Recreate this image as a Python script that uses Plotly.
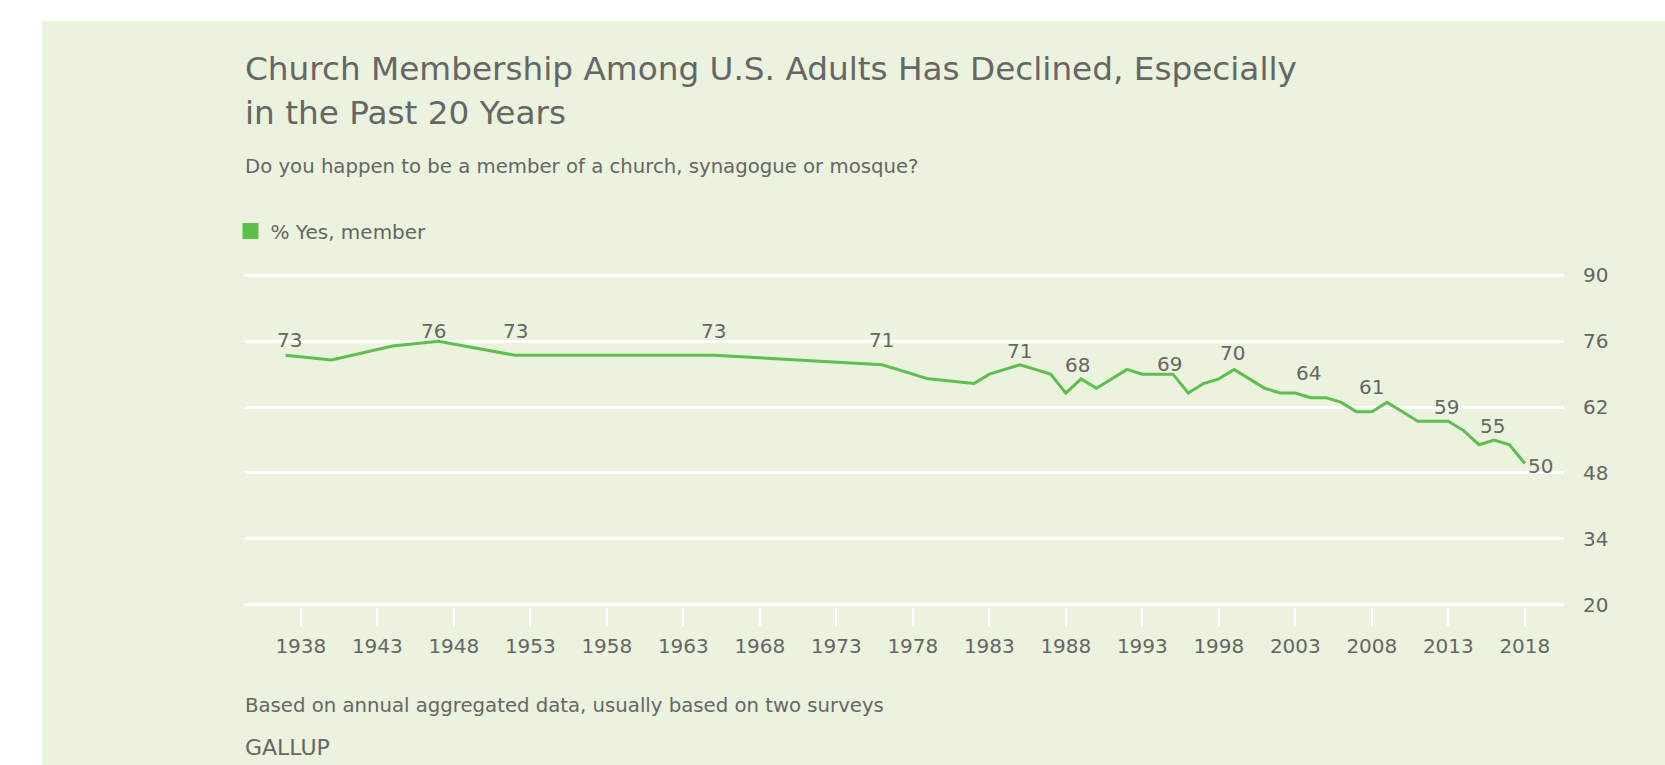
import plotly.graph_objects as go

# ---- data ----
years = [1937, 1940, 1944, 1947, 1952, 1965, 1976, 1979, 1982, 1983, 1985, 1987,
         1988, 1989, 1990, 1992, 1993, 1994, 1995, 1996, 1997, 1998, 1999, 2000,
         2001, 2002, 2003, 2004, 2005, 2006, 2007, 2008, 2009, 2010, 2011, 2012,
         2013, 2014, 2015, 2016, 2017, 2018]
members = [73, 72, 75, 76, 73, 73, 71, 68, 67, 69, 71, 69,
           65, 68, 66, 70, 69, 69, 69, 65, 67, 68, 70, 68,
           66, 65, 65, 64, 64, 63, 61, 61, 63, 61, 59, 59,
           59, 57, 54, 55, 54, 50]
label_years = [1937, 1947, 1952, 1965, 1976, 1985, 1989, 1995, 1999, 2004, 2008, 2013, 2016, 2018]
x_ticks = list(range(1938, 2019, 5))
y_ticks = [20, 34, 48, 62, 76, 90]

# label offsets (style, px)
label_dx = [4, -5, 0, 0, -1, 0, -4, -3, -2, -2, 0, -2, -2, 16]
label_dy = [15, 10, 24, 24, 25, 14, 14, 10, 16, 25, 25, 14, 14, -2]

GREEN = "#5dbf4e"
TEXT = "#666666"
BG = "#ebf2dd"
FONT = "DejaVu Sans"

fig = go.Figure()
fig.add_trace(go.Scatter(x=years, y=members, mode="lines",
                         line=dict(color=GREEN, width=3), showlegend=False,
                         hoverinfo="x+y"))
fig.add_trace(go.Scatter(x=[None], y=[None], mode="markers", name="% Yes, member",
                         marker=dict(symbol="square", size=19, color=GREEN),
                         showlegend=True))

annotations = []
for yr, dx, dy in zip(label_years, label_dx, label_dy):
    v = members[years.index(yr)]
    annotations.append(dict(x=yr, y=v, xref="x", yref="y", text=str(v), showarrow=False,
                            xshift=dx, yshift=dy, font=dict(size=20, color=TEXT, family=FONT)))

# plot area: x 245..1564, y 273..607
def py(px):
    return (607 - px) / 334.0

def text_ann(txt, ypx, size):
    return dict(x=0, y=py(ypx), xref="paper", yref="paper", xanchor="left", yanchor="middle",
                xshift=-2, text=txt, showarrow=False,
                font=dict(size=size, color=TEXT, family=FONT))

annotations += [
    text_ann("Church Membership Among U.S. Adults Has Declined, Especially", 69, 32.7),
    text_ann("in the Past 20 Years", 112.5, 32.7),
    text_ann("Do you happen to be a member of a church, synagogue or mosque?", 166.7, 19.7),
    text_ann("Based on annual aggregated data, usually based on two surveys", 705, 19.7),
    text_ann("GALLUP", 747.5, 22),
]

fig.update_layout(
    width=1665, height=765,
    margin=dict(l=245, r=101, t=273, b=158),
    paper_bgcolor="white",
    plot_bgcolor="rgba(0,0,0,0)",
    font=dict(family=FONT, color=TEXT, size=20),
    annotations=annotations,
    shapes=[dict(type="rect", xref="paper", yref="paper", layer="below",
                 x0=(42 - 245) / 1319.0, x1=1.1, y0=-0.6, y1=py(21),
                 fillcolor=BG, line=dict(width=0))],
    legend=dict(x=-0.011, xanchor="left", y=py(231), yanchor="middle",
                bgcolor="rgba(0,0,0,0)", font=dict(size=20, color=TEXT, family=FONT),
                itemsizing="trace"),
    showlegend=True,
)
fig.update_xaxes(range=[1934.35, 2020.56], tickvals=x_ticks, ticks="outside",
                 ticklen=18, tickwidth=2, tickcolor="white", showgrid=False,
                 zeroline=False, showline=False, ticklabelstandoff=3,
                 tickfont=dict(size=20, color=TEXT))
fig.update_yaxes(range=[19.5, 90.5], tickvals=y_ticks, side="right", showgrid=True,
                 gridcolor="white", gridwidth=3, zeroline=False, showline=False,
                 ticks="", ticklabelstandoff=18, tickfont=dict(size=20, color=TEXT))

fig.write_html("out.html")
